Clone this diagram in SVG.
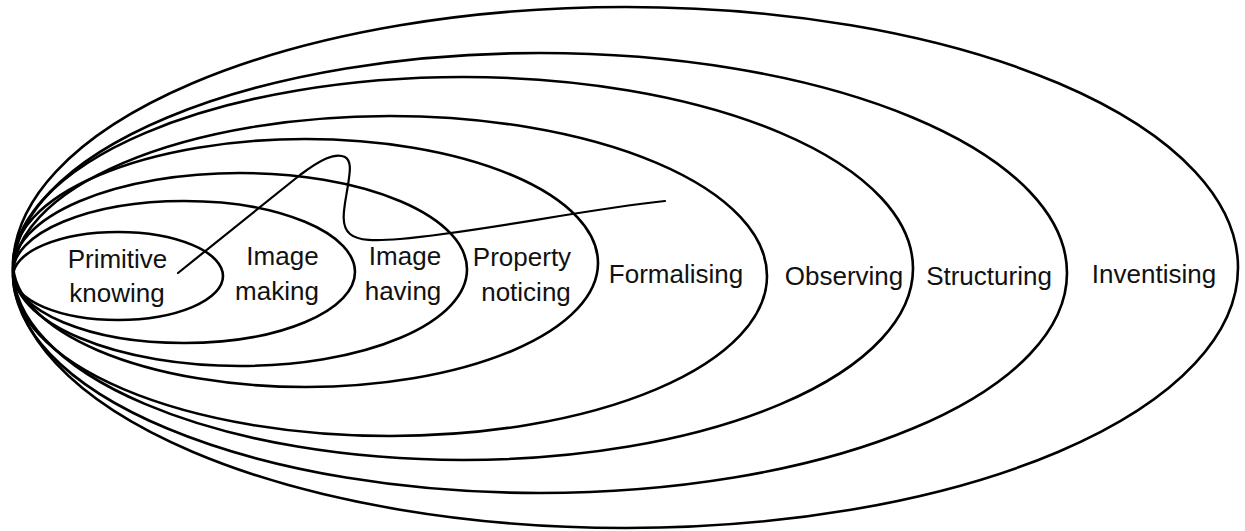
<svg xmlns="http://www.w3.org/2000/svg" width="1245" height="531" viewBox="0 0 1245 531">
<style>
.ring{fill:none;stroke:#000;stroke-width:2.6}
.lbl{font-family:"Liberation Sans",Arial,sans-serif;font-size:26px;fill:#111;text-anchor:middle}
.path{fill:none;stroke:#000;stroke-width:2.2;stroke-linecap:round;stroke-linejoin:round}
</style>
<rect width="1245" height="531" fill="#fff"/>
<g id="inventising"><ellipse class="ring" cx="625.5" cy="267.5" rx="612.5" ry="260.5"/><text class="lbl" x="1154" y="283">Inventising</text></g>
<g id="structuring"><ellipse class="ring" cx="540" cy="273" rx="527" ry="220"/><text class="lbl" x="989" y="285">Structuring</text></g>
<g id="observing"><ellipse class="ring" cx="463" cy="268.5" rx="450" ry="191.5"/><text class="lbl" x="844" y="285">Observing</text></g>
<g id="formalising"><ellipse class="ring" cx="390" cy="276" rx="377" ry="160"/><text class="lbl" x="676" y="283">Formalising</text></g>
<g id="property-noticing"><ellipse class="ring" cx="305.5" cy="263" rx="292.5" ry="124"/><text class="lbl" x="522" y="266">Property</text><text class="lbl" x="526" y="301">noticing</text></g>
<g id="image-having"><ellipse class="ring" cx="240" cy="269.5" rx="227" ry="96.5"/><text class="lbl" x="405" y="265">Image</text><text class="lbl" x="403" y="300">having</text></g>
<g id="image-making"><ellipse class="ring" cx="184" cy="272" rx="171" ry="71"/><text class="lbl" x="282.5" y="265">Image</text><text class="lbl" x="277" y="300">making</text></g>
<g id="primitive-knowing"><ellipse class="ring" cx="118" cy="276" rx="105" ry="44"/><text class="lbl" x="117.5" y="268">Primitive</text><text class="lbl" x="117" y="302">knowing</text></g>
<g id="connectors">
<path class="path" d="M178,273 L300,175 C320,160 335,152 345,157 C352,161 350,172 348,185 C345,205 339,225 350,234 C358,241 375,241 400,239 C480,232 580,210 665,201"/>
</g>
</svg>
